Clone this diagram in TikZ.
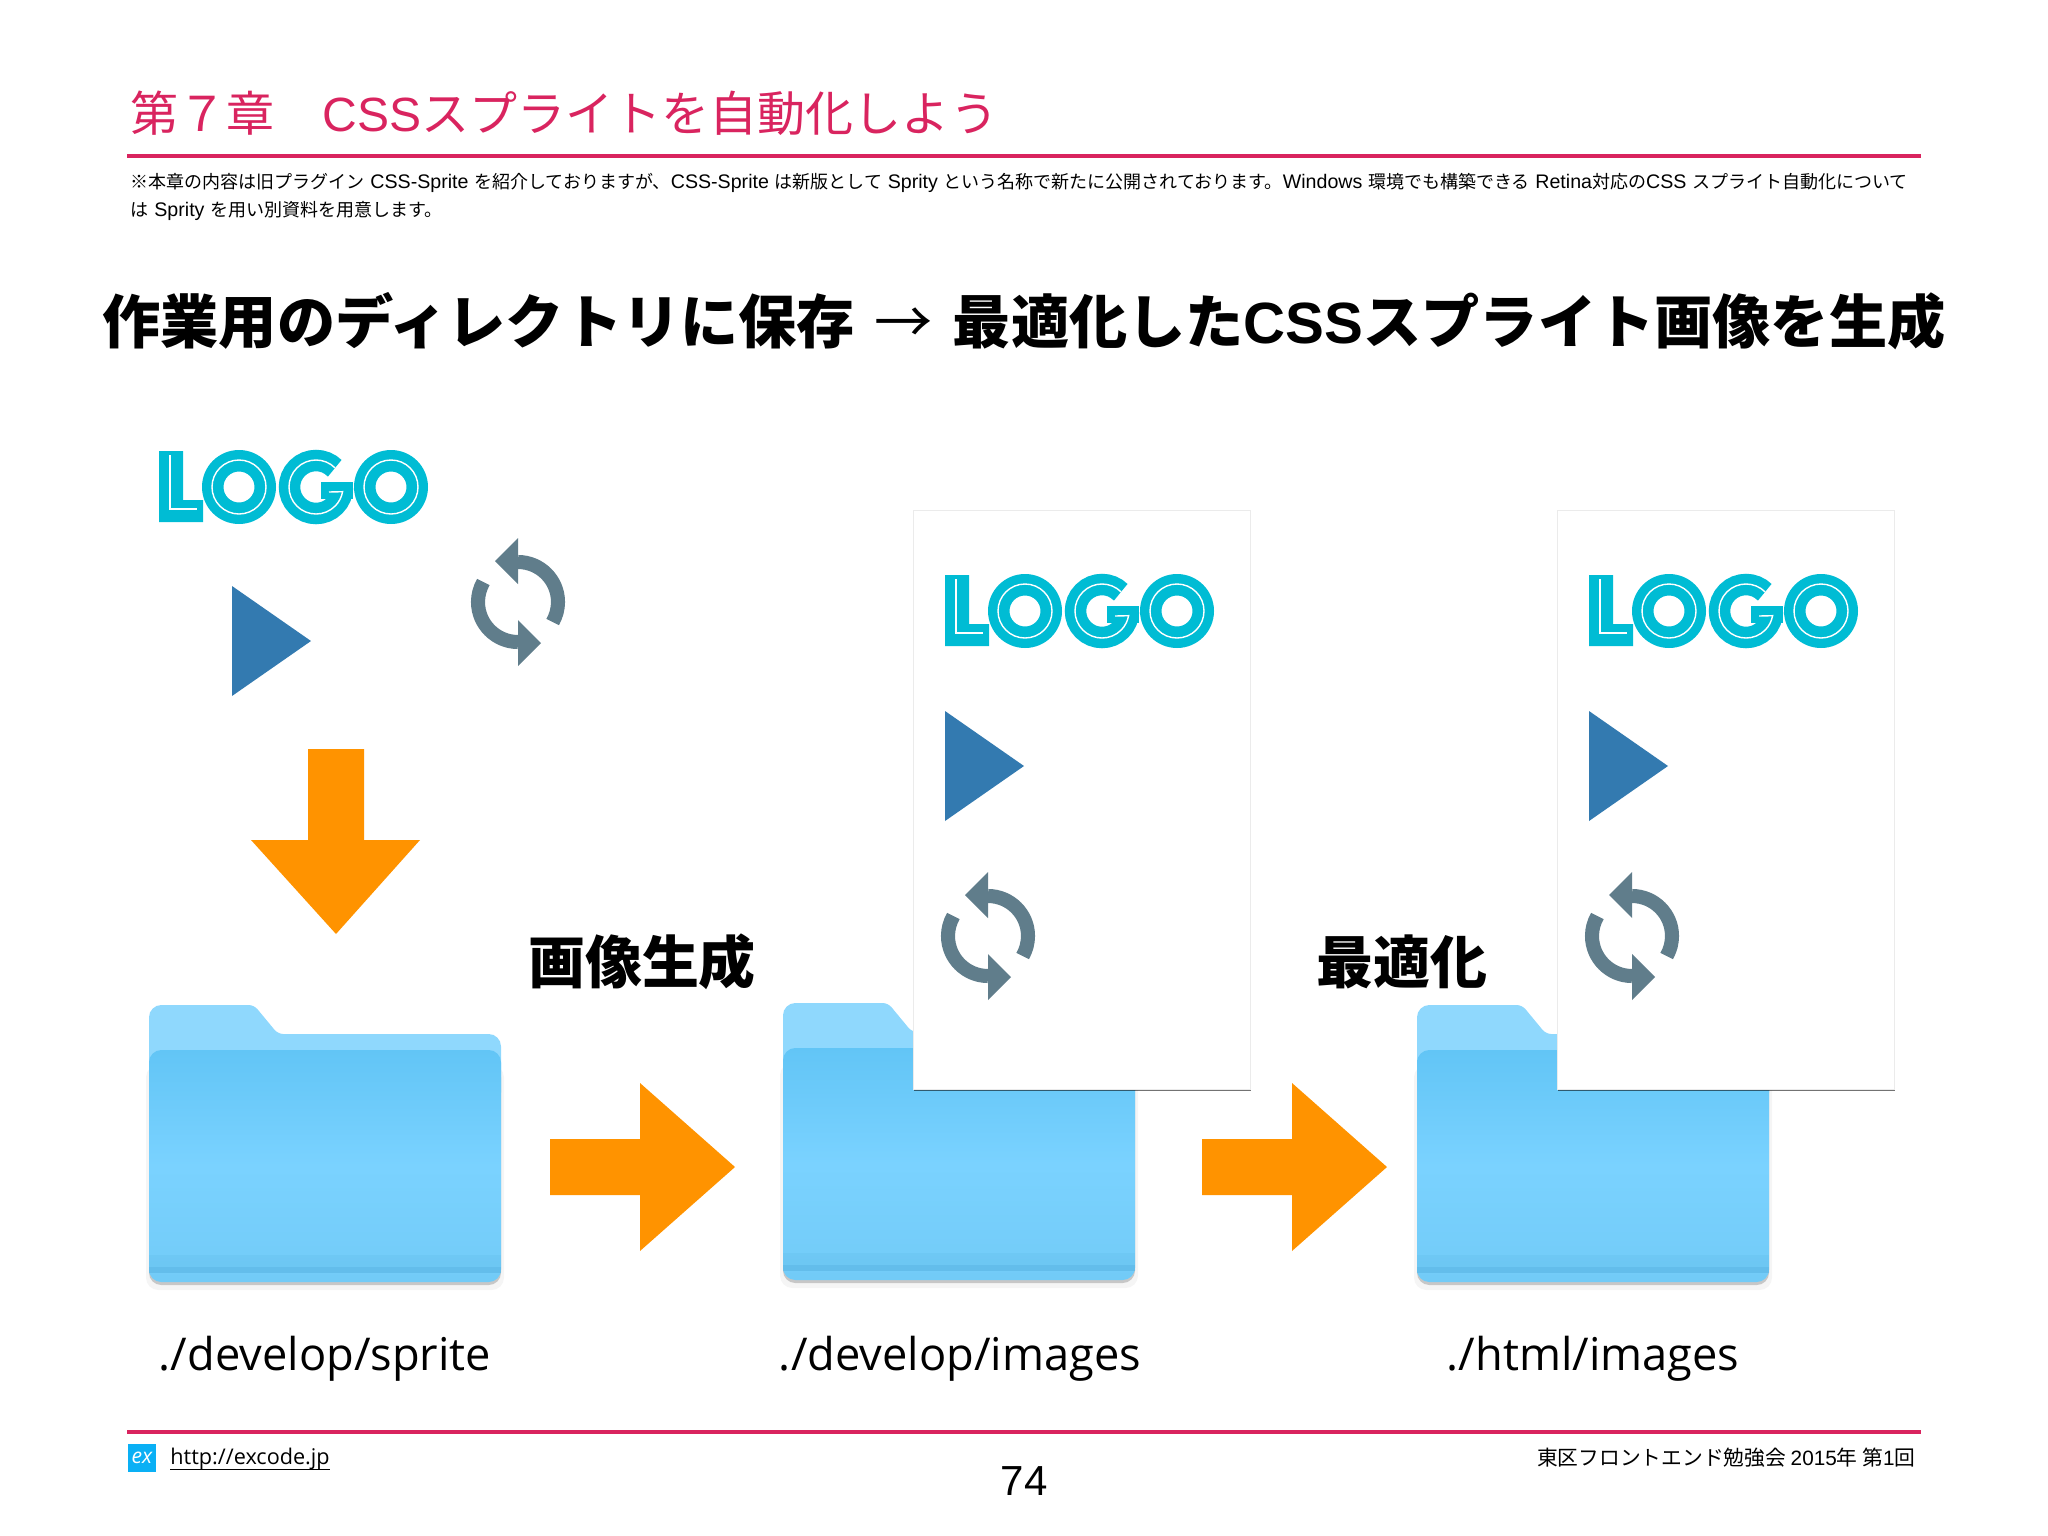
\documentclass[tikz,border=0pt]{standalone}
\usepackage{fontspec}
\setmainfont{Noto Sans CJK JP}
\newfontfamily\notebody[WordSpace=1.4]{Noto Sans CJK JP}
\newfontfamily\latinfont{Liberation Sans}
\newfontfamily\notefont[Scale=1.09]{Liberation Sans}
\newfontfamily\pathfont{Open Sans}
\newcommand{\lat}[1]{{\latinfont #1}}
\newcommand{\nlat}[1]{{\notefont #1}}
\usetikzlibrary{positioning, shadows}
\definecolor{rulepink}{HTML}{D9245F}
\definecolor{logocyan}{HTML}{00BCD4}
\definecolor{playblue}{HTML}{337AB0}
\definecolor{syncgray}{HTML}{607D8B}
\definecolor{arroworange}{HTML}{FF9300}
\definecolor{folderback}{HTML}{8FD8FD}
\definecolor{foldertop}{HTML}{62C5F6}
\definecolor{foldermid}{HTML}{7AD2FF}
\definecolor{folderlow}{HTML}{72CBF7}
\definecolor{folderband}{HTML}{5FBAE8}
\definecolor{exblue}{HTML}{0AB0F5}
\tikzset{
  chaptertitle/.style = {anchor=west, inner sep=0pt, text=rulepink, font=\fontsize{13.66pt}{16pt}\selectfont},
  notetext/.style = {anchor=north west, inner sep=0pt, align=left, font=\notebody\fontsize{5.12pt}{7.8pt}\selectfont},
  headline/.style = {inner sep=0pt, font=\fontsize{16.55pt}{20pt}\selectfont\bfseries},
  steplabel/.style = {inner sep=0pt, font=\fontsize{16.2pt}{19pt}\selectfont\bfseries},
  pathlabel/.style = {inner sep=0pt, font=\fontsize{12.85pt}{15pt}\selectfont\pathfont},
  footertext/.style = {inner sep=0pt, font=\fontsize{5.9pt}{8pt}\selectfont},
  redrule/.style = {rulepink, line width=1.1pt},
  card/.style = {rectangle, fill=white, draw=black!8, line width=0.2pt, minimum width=3.37cm, minimum height=5.78cm, inner sep=0pt, drop shadow={shadow xshift=0.3pt, shadow yshift=-0.5pt, opacity=0.55, fill=black}},
  logomark/.pic = {
    \fill[logocyan] (0,2) -- (24,2) -- (24,51) -- (44,51) -- (44,73) -- (0,73) -- cycle;
    \draw[white, line width=0.4pt] (11,6) -- (11,60) -- (38,60);
    \fill[logocyan, even odd rule] (80,38) circle[radius=37] (80,38) circle[radius=15.5];
    \draw[white, line width=0.4pt] (80,38) circle[radius=27];
    \draw[logocyan, line width=6.1pt] (157,38) ++(-45:26.5) arc[start angle=-45, end angle=-360, radius=26.5];
    \fill[logocyan] (162,33) rectangle (194,50);
    \draw[white, line width=0.4pt] (157,38) ++(-45:27) arc[start angle=-45, end angle=-350, radius=27] -- (170,43);
    \fill[logocyan, even odd rule] (232,38) circle[radius=37] (232,38) circle[radius=15.5];
    \draw[white, line width=0.4pt] (232,38) circle[radius=27];
  },
  playmark/.pic = {
    \fill[playblue] (0,0) -- (79,55) -- (0,110) -- cycle;
  },
  syncmark/.pic = {
    \draw[syncgray, line width=4pt] (0,-40) arc[start angle=-90, end angle=30, radius=40];
    \draw[syncgray, line width=4pt] (0,40) arc[start angle=90, end angle=210, radius=40];
    \fill[syncgray] (0,-64) -- (-23,-41) -- (0,-18) -- cycle;
    \fill[syncgray] (0,64) -- (23,41) -- (0,18) -- cycle;
  },
  folder/.pic = {
    \fill[black!4, rounded corners=3.5pt] (-3,60) rectangle (355,285);
    \fill[black!22, rounded corners=3.5pt] (0,60) rectangle (352,280);
    \fill[folderback, rounded corners=3.5pt] (0,100) -- (0,0) [rounded corners=1.5pt] -- (105,0) -- (129,29) [rounded corners=3.5pt] -- (352,29) -- (352,100) -- cycle;
    \path[top color=foldertop, bottom color=folderlow, middle color=foldermid, rounded corners=3.5pt] (0,45) -- (352,45) -- (352,277) -- (0,277) -- cycle;
    \fill[folderband, opacity=0.25] (0,250) rectangle (352,262);
    \fill[folderband, opacity=0.8] (0,262) rectangle (352,268);
  },
  orangeright/.pic = {
    \fill[arroworange] (0,28) -- (90,28) -- (90,84) -- (185,0) -- (90,-84) -- (90,-28) -- (0,-28) -- cycle;
  }
}
\begin{document}
\begin{tikzpicture}[x=0.01cm, y=-0.01cm]
\useasboundingbox (0,0) rectangle (2048,1536);

\node[chaptertitle] (chapter) at (130,113) {第７章　\lat{CSS}スプライトを自動化しよう};
\coordinate (ruletopL) at (127,156);
\coordinate (ruletopR) at (1921,156);
\draw[redrule] (ruletopL) -- (ruletopR);
\node[notetext] (note) at (130,173) {※本章の内容は旧プラグイン \nlat{CSS-Sprite} を紹介しておりますが、\nlat{CSS-Sprite} は新版として \nlat{Sprity} という名称で新たに公開されております。\nlat{Windows} 環境でも構築できる \nlat{Retina}対応の\nlat{CSS} スプライト自動化について\\は \nlat{Sprity} を用い別資料を用意します。};
\node[headline] (headline) at (1024,321) {作業用のディレクトリに保存\hspace{0.34em}{\mdseries →}\hspace{0.34em}最適化した\lat{CSS}スプライト画像を生成};

\pic at (159,449) {logomark};
\pic at (232,586) {playmark};
\pic at (518,602) {syncmark};
\fill[arroworange] (308,749) -- (364,749) -- (364,840) -- (420,840) -- (336,934) -- (251,840) -- (308,840) -- cycle;

\pic at (149,1005) {folder};
\pic at (783,1003) {folder};
\pic at (1417,1005) {folder};
\pic at (550,1167) {orangeright};
\pic at (1202,1167) {orangeright};

\node[card] (sheetA) at (1081.5,800) {};
\node[card, right=3.06cm of sheetA] (sheetB) {};

\pic at (945,573) {logomark};
\pic at (945,711) {playmark};
\pic at (988,936) {syncmark};
\pic at (1589,573) {logomark};
\pic at (1589,711) {playmark};
\pic at (1632,936) {syncmark};

\node[steplabel] (generate) at (642,962) {画像生成};
\node[steplabel] (optimize) at (1402,962) {最適化};

\node[pathlabel] (spritepath) at (325,1359) {./develop/sprite};
\node[pathlabel] (imagepath) at (960,1359) {./develop/images};
\node[pathlabel] (htmlpath) at (1593,1359) {./html/images};

\coordinate (rulelowL) at (127,1432);
\coordinate (rulelowR) at (1921,1432);
\draw[redrule] (rulelowL) -- (rulelowR);
\node[fill=exblue, text=white, minimum size=0.28cm, inner sep=0pt, font=\fontsize{6pt}{7pt}\selectfont\pathfont\itshape] (exicon) at (142,1458) {ex};
\node[footertext, font=\fontsize{6.15pt}{8pt}\selectfont\pathfont, right=0.13cm of exicon, yshift=-0.1cm] (link) {\underline{\smash{http://excode.jp}}};
\node[footertext, anchor=east] (event) at (1916,1458) {東区フロントエンド勉強会 \lat{2015}年 第\lat{1}回};
\node[inner sep=0pt, font=\fontsize{11.95pt}{14pt}\selectfont\latinfont] (page) at (1024,1481) {74};
\end{tikzpicture}
\end{document}
